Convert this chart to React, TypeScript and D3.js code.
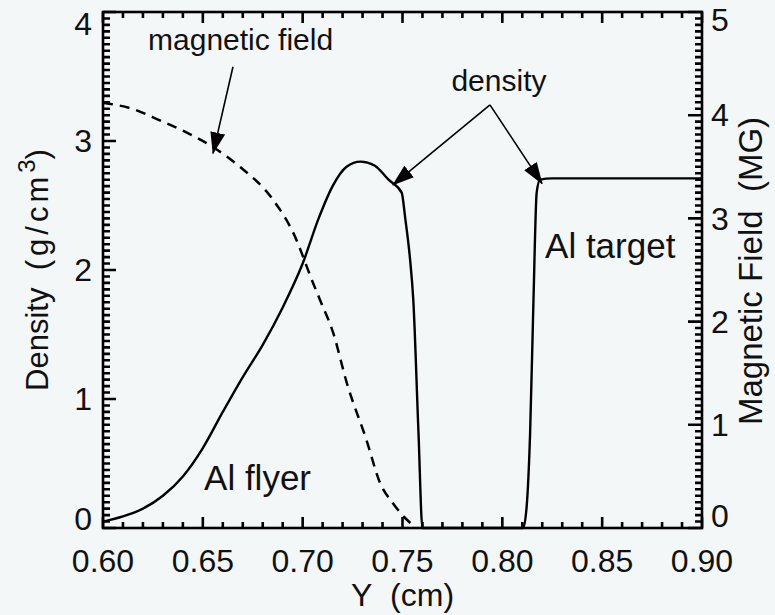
import { useRef, useEffect } from "react";
import * as d3 from "d3";

// density profile, Y (cm) vs g/cm^3
const densityY = [
  0.6, 0.61, 0.62, 0.63, 0.64, 0.65, 0.66, 0.67, 0.68, 0.69, 0.7, 0.708, 0.715,
  0.722, 0.729, 0.736, 0.743, 0.7496, 0.7513, 0.7538, 0.7554, 0.758, 0.76,
  0.785, 0.8104, 0.8122, 0.8139, 0.8156, 0.8172, 0.8189, 0.825, 0.9,
];
const densityVal = [
  0.05, 0.09, 0.15, 0.25, 0.4, 0.62, 0.9, 1.17, 1.42, 1.71, 2.05, 2.4, 2.65,
  2.8, 2.84, 2.81, 2.7, 2.6, 2.41, 2.08, 1.77, 0.74, 0.0, 0.0, 0.0, 0.17, 0.73,
  1.77, 2.6, 2.7, 2.71, 2.71,
];

// magnetic field, Y (cm) vs MG
const fieldY = [
  0.6, 0.615, 0.6285, 0.64, 0.6552, 0.6686, 0.6852, 0.6953, 0.7053, 0.7087,
  0.7153, 0.7222, 0.732, 0.7387, 0.7452, 0.7522, 0.755,
];
const fieldVal = [
  4.12, 4.06, 3.95, 3.85, 3.69, 3.5, 3.18, 2.86, 2.37, 2.21, 1.89, 1.4, 0.85,
  0.44, 0.24, 0.08, 0.03,
];

const xTicks = [0.6, 0.65, 0.7, 0.75, 0.8, 0.85, 0.9];
const densityTicks = [0, 1, 2, 3, 4];
const fieldTicks = [0, 1, 2, 3, 4, 5];

const W = 775;
const H = 615;
const FONT = "'Liberation Sans', Arial, Helvetica, sans-serif";

const App = () => {
  const ref = useRef<SVGSVGElement>(null);

  useEffect(() => {
    if (!ref.current) return;
    const svg = d3.select(ref.current);
    const left = 103;
    const right = 702;
    const top = 12;
    const bottom = 528;

    const x = d3.scaleLinear().domain([0.6, 0.9]).range([left, right]);
    const yD = d3.scaleLinear().domain([0, 4]).range([bottom, top]);
    const yB = d3.scaleLinear().domain([0, 5]).range([bottom, top]);

    svg
      .append("rect")
      .attr("width", W)
      .attr("height", H)
      .attr("fill", "#f4f7f8");

    const defs = svg.append("defs");
    defs
      .append("marker")
      .attr("id", "head")
      .attr("markerUnits", "userSpaceOnUse")
      .attr("viewBox", "0 -8 22 16")
      .attr("refX", 21)
      .attr("refY", 0)
      .attr("markerWidth", 22)
      .attr("markerHeight", 16)
      .attr("orient", "auto")
      .append("path")
      .attr("d", "M0,-7.5L22,0L0,7.5Z")
      .attr("fill", "#000");

    // inward ticks: every 0.01 cm, 0.05 g/cm3 and 1/16 MG
    const xMinor = d3.range(60, 91).map((v) => v / 100);
    const dMinor = d3.range(0, 81).map((v) => v * 0.05);
    const bMinor = d3.range(0, 81).map((v) => v / 16);

    const tickPath = d3.path();
    xMinor.forEach((d, i) => {
      const len = i % 5 === 0 ? 11 : 6;
      tickPath.moveTo(x(d), bottom);
      tickPath.lineTo(x(d), bottom - len);
      tickPath.moveTo(x(d), top);
      tickPath.lineTo(x(d), top + len);
    });
    dMinor.forEach((d, i) => {
      tickPath.moveTo(left, yD(d));
      tickPath.lineTo(left + (i % 20 === 0 ? 13 : 7), yD(d));
    });
    bMinor.forEach((d, i) => {
      tickPath.moveTo(right, yB(d));
      tickPath.lineTo(right - (i % 16 === 0 ? 14 : 7), yB(d));
    });

    svg
      .append("path")
      .attr("d", tickPath.toString())
      .attr("fill", "none")
      .attr("stroke", "#000")
      .attr("stroke-width", 2.6);

    svg
      .append("rect")
      .attr("x", left)
      .attr("y", top)
      .attr("width", right - left)
      .attr("height", bottom - top)
      .attr("fill", "none")
      .attr("stroke", "#000")
      .attr("stroke-width", 2.6);

    const labels = svg
      .append("g")
      .attr("font-family", FONT)
      .attr("font-size", 32)
      .attr("fill", "#111");

    labels
      .selectAll("text.xl")
      .data(xTicks)
      .enter()
      .append("text")
      .attr("class", "xl")
      .attr("x", (d: number) => x(d))
      .attr("y", 572)
      .attr("text-anchor", "middle")
      .text((d: number) => d3.format(".2f")(d));
    labels
      .selectAll("text.dlab")
      .data(densityTicks)
      .enter()
      .append("text")
      .attr("class", "dlab")
      .attr("x", 92)
      .attr("y", (d: number) => Math.min(519, Math.max(24, yD(d))))
      .attr("dy", "0.35em")
      .attr("text-anchor", "end")
      .text((d: number) => String(d));
    labels
      .selectAll("text.blab")
      .data(fieldTicks)
      .enter()
      .append("text")
      .attr("class", "blab")
      .attr("x", 711)
      .attr("y", (d: number) => Math.min(516, Math.max(20, yB(d))))
      .attr("dy", "0.35em")
      .attr("text-anchor", "start")
      .text((d: number) => String(d));

    labels
      .append("text")
      .attr("x", (left + right) / 2)
      .attr("y", 606)
      .attr("text-anchor", "middle")
      .text("Y\u00a0 (cm)");

    const dTitle = labels
      .append("text")
      .attr("transform", `translate(48,${(top + bottom) / 2}) rotate(-90)`)
      .attr("text-anchor", "middle")
      .attr("font-size", 31);
    dTitle.append("tspan").text("Density\u00a0 ");
    dTitle.append("tspan").attr("letter-spacing", 4).text("(g/cm");
    dTitle
      .append("tspan")
      .attr("font-size", 24)
      .attr("dy", -13)
      .text("3");
    dTitle.append("tspan").attr("dy", 13).text(")");

    labels
      .append("text")
      .attr("transform", `translate(762,${(top + bottom) / 2 + 1}) rotate(-90)`)
      .attr("text-anchor", "middle")
      .attr("font-size", 33)
      .text("Magnetic Field\u00a0 (MG)");

    // curves
    const densityLine = d3
      .line<number>()
      .x((_d: number, i: number) => x(densityY[i]))
      .y((d: number) => yD(d))
      .curve(d3.curveMonotoneX);
    svg
      .append("path")
      .attr("d", densityLine(densityVal))
      .attr("fill", "none")
      .attr("stroke", "#000")
      .attr("stroke-width", 2.4);

    const fieldLine = d3
      .line<number>()
      .x((_d: number, i: number) => x(fieldY[i]))
      .y((d: number) => yB(d))
      .curve(d3.curveMonotoneX);
    svg
      .append("path")
      .attr("d", fieldLine(fieldVal))
      .attr("fill", "none")
      .attr("stroke", "#000")
      .attr("stroke-width", 2.5)
      .attr("stroke-dasharray", "10,7");

    // annotations
    const ann = svg.append("g").attr("stroke", "#000").attr("stroke-width", 1.6);
    const arrow = (x1: number, y1: number, x2: number, y2: number) =>
      ann
        .append("line")
        .attr("x1", x1)
        .attr("y1", y1)
        .attr("x2", x2)
        .attr("y2", y2)
        .attr("marker-end", "url(#head)");
    arrow(x(0.6651), yB(4.47), x(0.6551), yB(3.63));
    arrow(x(0.7938), yD(3.28), x(0.7452), yD(2.66));
    arrow(x(0.7938), yD(3.28), x(0.8199), yD(2.67));

    labels
      .append("text")
      .attr("x", x(0.6689))
      .attr("y", yD(3.705))
      .attr("text-anchor", "middle")
      .attr("font-size", 30)
      .text("magnetic field");
    labels
      .append("text")
      .attr("x", x(0.7983))
      .attr("y", yD(3.388))
      .attr("text-anchor", "middle")
      .attr("font-size", 30)
      .text("density");
    labels
      .append("text")
      .attr("x", x(0.8214))
      .attr("y", yD(2.093))
      .attr("font-size", 35)
      .text("Al target");
    labels
      .append("text")
      .attr("x", x(0.6506))
      .attr("y", yD(0.295))
      .attr("font-size", 35)
      .text("Al flyer");

    return () => {
      svg.selectAll("*").remove();
    };
  }, []);

  return (
    <svg
      ref={ref}
      width={W}
      height={H}
      style={{ position: "absolute", left: 0, top: 0 }}
    ></svg>
  );
};

export default App;
